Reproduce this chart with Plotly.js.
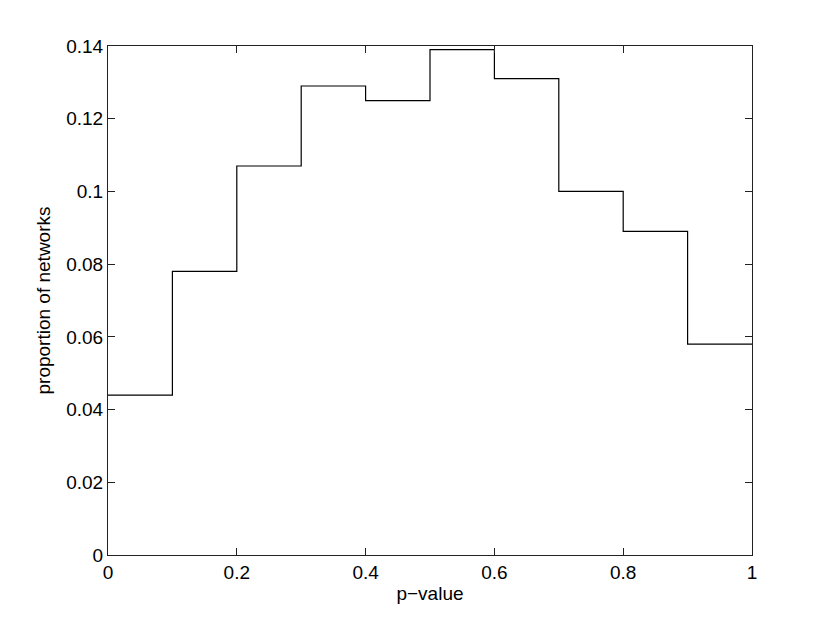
<!DOCTYPE html>
<html>
<head>
<meta charset="utf-8">
<script src="https://cdn.plot.ly/plotly-3.0.1.min.js"></script>
<style>
  body { margin: 0; background: #fff; }
  #chart { width: 830px; height: 625px; }
</style>
</head>
<body>
<div id="chart"></div>
<script>
// bin edges of the p-value histogram
const binEdges = [0, 0.1, 0.2, 0.3, 0.4, 0.5, 0.6, 0.7, 0.8, 0.9, 1];
// proportion of networks in each bin
const proportions = [0.044, 0.078, 0.107, 0.129, 0.125, 0.139, 0.131, 0.100, 0.089, 0.058];

const xTicks = [0, 0.2, 0.4, 0.6, 0.8, 1];
const xTickLabels = ['0', '0.2', '0.4', '0.6', '0.8', '1'];
const yTicks = [0, 0.02, 0.04, 0.06, 0.08, 0.1, 0.12, 0.14];
const yTickLabels = ['0', '0.02', '0.04', '0.06', '0.08', '0.1', '0.12', '0.14'];

// stairs: repeat last value so the final step reaches x = 1
const stairsY = proportions.concat([proportions[proportions.length - 1]]);

const trace = {
    x: binEdges,
    y: stairsY,
    mode: 'lines',
    line: { color: '#000', width: 1.2, shape: 'hv' },
    hoverinfo: 'skip'
};

const font = { family: 'Liberation Sans, Arial, sans-serif', size: 19, color: '#000' };

const layout = {
    width: 830,
    height: 625,
    margin: { l: 108, r: 78, t: 46, b: 70 },
    paper_bgcolor: '#fff',
    plot_bgcolor: '#fff',
    showlegend: false,
    font: font,
    xaxis: {
        range: [0, 1],
        tickvals: xTicks,
        ticktext: xTickLabels,
        ticks: 'inside',
        ticklen: 7,
        tickcolor: '#222',
        showgrid: false,
        zeroline: false,
        showline: true,
        linecolor: '#222',
        linewidth: 1,
        mirror: 'ticks',
        tickfont: font,
        title: { text: 'p\u2212value', font: font, standoff: 4 }
    },
    yaxis: {
        range: [0, 0.14],
        tickvals: yTicks,
        ticktext: yTickLabels,
        ticks: 'inside',
        ticklen: 7,
        tickcolor: '#222',
        showgrid: false,
        zeroline: false,
        showline: true,
        linecolor: '#222',
        linewidth: 1,
        mirror: 'ticks',
        tickfont: font,
        title: { text: 'proportion of networks', font: font, standoff: 10 }
    }
};

Plotly.newPlot('chart', [trace], layout, { displayModeBar: false, staticPlot: true });
</script>
</body>
</html>
